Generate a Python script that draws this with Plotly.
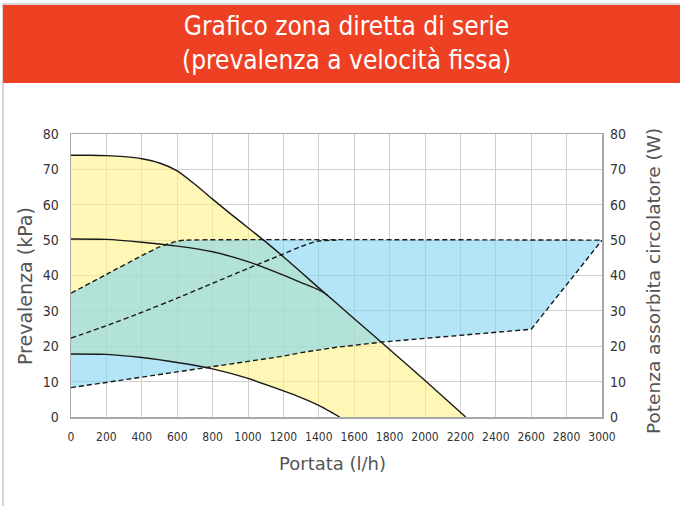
import plotly.graph_objects as go

# ---- data (flow l/h -> head kPa / power W) ----
head_max_x = [0, 100, 200, 300, 400, 500, 600, 700, 800, 900, 1000, 1100, 1200, 1300, 1400, 1600, 1800, 2000, 2230]
head_max_y = [74, 74, 73.9, 73.6, 73, 71.8, 69.6, 65.8, 61.6, 57.5, 53.5, 49.5, 45.3, 40.9, 36.5, 27.8, 19.1, 10.3, 0]

head_mid_x = [0, 200, 400, 600, 800, 1000, 1200, 1300, 1400, 1450]
head_mid_y = [50.3, 50.2, 49.4, 48.3, 46.7, 43.9, 40.1, 38.0, 35.9, 34.4]

head_low_x = [0, 200, 400, 600, 800, 1000, 1200, 1300, 1400, 1518]
head_low_y = [17.8, 17.7, 16.8, 15.4, 13.6, 10.9, 7.4, 5.5, 3.3, 0]

pow_up_x = [0, 200, 400, 500, 600, 650, 3000]
pow_up_y = [35, 40.3, 45.6, 48.1, 49.7, 50, 50]

pow_mid_x = [0, 200, 400, 600, 800, 1000, 1200, 1300, 1390, 1500]
pow_mid_y = [22.3, 25.8, 29.6, 33.6, 37.8, 42.0, 46.1, 48.2, 49.7, 50]

pow_low_x = [0, 200, 400, 600, 800, 1000, 1200, 1300, 1500, 1760, 2000, 2300, 2600, 3000]
pow_low_y = [8.3, 9.8, 11.3, 12.7, 14.1, 15.6, 17.2, 18.2, 19.7, 21.2, 22.2, 23.4, 24.8, 50]

x_ticks = list(range(0, 3001, 200))
y_ticks = list(range(0, 81, 10))

title_text = "Grafico zona diretta di serie<br>(prevalenza a velocità fissa)"
x_title = "Portata (l/h)"
y_title = "Prevalenza (kPa)"
y2_title = "Potenza assorbita circolatore (W)"

# ---- styles ----
YELLOW = "rgba(253,242,132,0.6)"
BLUE = "rgba(128,212,240,0.6)"
RED = "#EE4023"
FONT_N = "Liberation Sans Narrow, DejaVu Sans Condensed, sans-serif"
FONT_T = "DejaVu Sans, sans-serif"

W, H = 680, 506
L, R, T, B = 71, 78, 134, 89
pw, ph = W - L - R, H - T - B


def px2paper_x(px):
    return (px - L) / pw


def px2paper_y(py):
    return (H - B - py) / ph


fig = go.Figure()

# fills (on primary y)
fig.add_trace(go.Scatter(x=head_low_x, y=head_low_y, mode="lines", line=dict(width=0, shape="spline", smoothing=0.6),
                         hoverinfo="skip", showlegend=False))
fig.add_trace(go.Scatter(x=head_max_x, y=head_max_y, mode="lines", line=dict(width=0, shape="spline", smoothing=0.6),
                         fill="tonexty", fillcolor=YELLOW, hoverinfo="skip", showlegend=False))
fig.add_trace(go.Scatter(x=pow_low_x, y=pow_low_y, mode="lines", line=dict(width=0),
                         hoverinfo="skip", showlegend=False))
fig.add_trace(go.Scatter(x=pow_up_x, y=pow_up_y, mode="lines", line=dict(width=0, shape="spline", smoothing=0.5),
                         fill="tonexty", fillcolor=BLUE, hoverinfo="skip", showlegend=False))

# head curves (solid)
for xs, ys in [(head_max_x, head_max_y), (head_mid_x, head_mid_y), (head_low_x, head_low_y)]:
    fig.add_trace(go.Scatter(x=xs, y=ys, mode="lines",
                             line=dict(color="#1a1a1a", width=1.4, shape="spline", smoothing=0.6),
                             hoverinfo="skip", showlegend=False))

# power curves (dashed, right axis)
fig.add_trace(go.Scatter(x=pow_up_x, y=pow_up_y, mode="lines", yaxis="y2",
                         line=dict(color="#1a1a1a", width=1.4, dash="5px,3px", shape="spline", smoothing=0.5),
                         hoverinfo="skip", showlegend=False))
fig.add_trace(go.Scatter(x=pow_mid_x, y=pow_mid_y, mode="lines", yaxis="y2",
                         line=dict(color="#1a1a1a", width=1.4, dash="5px,3px", shape="spline", smoothing=0.5),
                         hoverinfo="skip", showlegend=False))
fig.add_trace(go.Scatter(x=pow_low_x, y=pow_low_y, mode="lines", yaxis="y2",
                         line=dict(color="#1a1a1a", width=1.4, dash="5px,3px"),
                         hoverinfo="skip", showlegend=False))

axis_common = dict(showgrid=True, gridcolor="#cfcfcf", gridwidth=1, zeroline=False,
                   showline=True, linecolor="#a8a8a8", linewidth=1.5, mirror=True, ticks="")

fig.update_layout(
    width=W, height=H,
    margin=dict(l=L, r=R, t=T, b=B),
    paper_bgcolor="white", plot_bgcolor="white",
    xaxis=dict(range=[0, 3000], tickvals=x_ticks, ticktext=[str(v) for v in x_ticks],
               tickfont=dict(family=FONT_N, size=12, color="#333"), ticklabelstandoff=8, **axis_common),
    yaxis=dict(range=[0, 80], tickvals=y_ticks, ticktext=[str(v) for v in y_ticks],
               tickfont=dict(family=FONT_N, size=14, color="#333"), ticklabelstandoff=8, **axis_common),
    yaxis2=dict(range=[0, 80], overlaying="y", side="right", tickvals=y_ticks,
                ticktext=[str(v) for v in y_ticks], showgrid=False, zeroline=False, showline=False, ticks="",
                tickfont=dict(family=FONT_N, size=14, color="#333"), ticklabelstandoff=7),
)

shapes = [
    dict(type="rect", xref="paper", yref="paper",
         x0=px2paper_x(3), x1=px2paper_x(690), y0=px2paper_y(520), y1=px2paper_y(4),
         line=dict(color="#c8c8c8", width=1.5), fillcolor="rgba(0,0,0,0)", layer="below"),
    dict(type="rect", xref="paper", yref="paper",
         x0=px2paper_x(3), x1=px2paper_x(690), y0=px2paper_y(83), y1=px2paper_y(5),
         line=dict(width=0), fillcolor=RED, layer="above"),
]
fig.update_layout(shapes=shapes)

fig.add_annotation(text=title_text, xref="paper", yref="paper", x=px2paper_x(346), y=px2paper_y(43),
                   showarrow=False, font=dict(family=FONT_N, size=26, color="white"), align="center",
                   xanchor="center", yanchor="middle")
fig.add_annotation(text=x_title, xref="paper", yref="paper", x=px2paper_x(332), y=px2paper_y(463),
                   showarrow=False, font=dict(family=FONT_T, size=18, color="#555"),
                   xanchor="center", yanchor="middle")
fig.add_annotation(text=y_title, xref="paper", yref="paper", x=px2paper_x(25), y=px2paper_y(286),
                   showarrow=False, textangle=-90, font=dict(family=FONT_T, size=19, color="#555"),
                   xanchor="center", yanchor="middle")
fig.add_annotation(text=y2_title, xref="paper", yref="paper", x=px2paper_x(653), y=px2paper_y(281),
                   showarrow=False, textangle=-90, font=dict(family=FONT_T, size=18.5, color="#555"),
                   xanchor="center", yanchor="middle")

fig.write_html("out.html", config={"displayModeBar": False, "staticPlot": True},
               post_script="document.body.style.margin='0';document.body.style.padding='0';")
